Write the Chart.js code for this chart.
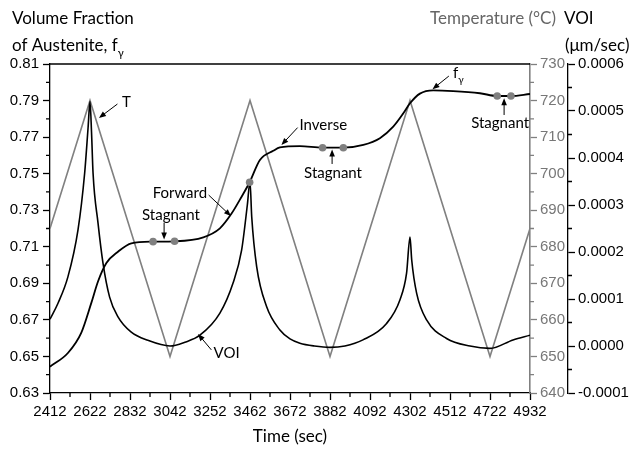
<!DOCTYPE html>
<html>
<head>
<meta charset="utf-8">
<script src="https://cdn.jsdelivr.net/npm/chart.js@4.4.1/dist/chart.umd.min.js"></script>
<style>
  html, body { margin: 0; padding: 0; background: #fff; }
  #wrap { width: 630px; height: 449px; }
</style>
</head>
<body>
<div id="wrap"><canvas id="austeniteChart" width="630" height="449"></canvas></div>
<script>
// Temperature cycle (grey triangle wave) - right inner axis
const tempTime = [2412, 2622, 3042, 3462, 3882, 4302, 4722, 4932];
const tempValue = [685, 720, 650, 720, 650, 720, 650, 685];

// Volume fraction of austenite f_gamma - left axis
const fracTime = [2412, 2506, 2576, 2629, 2664, 2708, 2769, 2839, 2953, 3066, 3217, 3304, 3366, 3418, 3460,
                  3514, 3584, 3619, 3724, 3843, 3952, 4057, 4144, 4214, 4267, 4302, 4354, 4424, 4529, 4669,
                  4760, 4832, 4932];
const fracValue = [0.6444, 0.6519, 0.6629, 0.6793, 0.6910, 0.7011, 0.7073, 0.7119, 0.7128, 0.7130, 0.7152,
                   0.7201, 0.7283, 0.7374, 0.7453, 0.7575, 0.7625, 0.7644, 0.7651, 0.7642, 0.7642, 0.7657,
                   0.7694, 0.7757, 0.7830, 0.7885, 0.7938, 0.7956, 0.7952, 0.7940, 0.7925, 0.7925, 0.7936];

// grey marker dots on the f_gamma curve
const dotTime = [2953, 3066, 3460, 3843, 3952, 4760, 4832];
const dotValue = [0.7128, 0.7130, 0.7453, 0.7642, 0.7642, 0.7925, 0.7925];

// VOI (um/sec) - right outer axis
const voiTime = [2412, 2454, 2506, 2559, 2594, 2612, 2622, 2630, 2638, 2664, 2690, 2725, 2769, 2837, 2926,
                 3042, 3120, 3199, 3304, 3373, 3418, 3448, 3462, 3471, 3497, 3549, 3619, 3672, 3724, 3800,
                 3882, 3960, 4055, 4179, 4249, 4284, 4302, 4311, 4337, 4390, 4494, 4617, 4722, 4843, 4932];
const voiValue = [0.000057, 0.000091, 0.000147, 0.000247, 0.000368, 0.000465, 0.000520, 0.000455, 0.000368,
                  0.000262, 0.000177, 0.000104, 0.000062, 0.000030, 0.000012, 0.000000, 0.000008, 0.000023,
                  0.000070, 0.000134, 0.000204, 0.000300, 0.000350, 0.000275, 0.000169, 0.000084, 0.000034,
                  0.000015, 0.000006, 0.000000, -0.000003, 0.000000, 0.000013, 0.000048, 0.000098, 0.000155,
                  0.000232, 0.000183, 0.000112, 0.000055, 0.000016, 0.000000, -0.000005, 0.000013, 0.000023];

// axis ranges: [min, max, major step, minor step]
const timeAxis = [2412, 4932, 210, 105];
const fracAxis = [0.63, 0.81, 0.02, 0.01];
const tempAxis = [640, 730, 10, 5];
const voiAxis = [-0.0001, 0.0006, 0.0001, 0.00005];

const GREY = '#808080';
const TICK_FONT = { family: '"Liberation Sans", Arial, sans-serif', size: 15 };
const TEXT_FONT = 'Lato, "Open Sans", sans-serif';

// text labels with arrows, placed in (time, fraction) coordinates
const notes = [
  { text: 'T', at: [2790, 0.7892], align: 'left', from: [2766, 0.7881], to: [2669, 0.7805] },
  { text: 'Forward', at: [3237, 0.7394], align: 'right', from: [3245, 0.7383], to: [3362, 0.7268] },
  { text: 'Stagnant', at: [3047, 0.7274], align: 'center', from: [3011, 0.7232], to: [3011, 0.7140] },
  { text: 'Inverse', at: [3722, 0.7766], align: 'left', from: [3712, 0.7752], to: [3627, 0.7657] },
  { text: 'Stagnant', at: [3898, 0.7504], align: 'center', from: [3893, 0.7553], to: [3893, 0.7632] },
  { text: 'Stagnant', at: [4775, 0.7777], align: 'center', from: [4796, 0.7821], to: [4796, 0.7913] },
  { text: 'f', sub: 'γ', at: [4528, 0.8051], align: 'left', from: [4506, 0.8034], to: [4420, 0.7962] },
  { text: 'VOI', at: [3271, 0.6520], align: 'left', from: [3259, 0.6536], to: [3189, 0.6623] }
];

function toPoints(xs, ys) {
  return xs.map((x, i) => ({ x: x, y: ys[i] }));
}

function arrow(ctx, x1, y1, x2, y2) {
  const ang = Math.atan2(y2 - y1, x2 - x1);
  const len = 7, half = 2.8;
  ctx.beginPath();
  ctx.moveTo(x1, y1);
  ctx.lineTo(x2 - Math.cos(ang) * len * 0.7, y2 - Math.sin(ang) * len * 0.7);
  ctx.stroke();
  ctx.beginPath();
  ctx.moveTo(x2, y2);
  ctx.lineTo(x2 - Math.cos(ang) * len + Math.sin(ang) * half, y2 - Math.sin(ang) * len - Math.cos(ang) * half);
  ctx.lineTo(x2 - Math.cos(ang) * len - Math.sin(ang) * half, y2 - Math.sin(ang) * len + Math.cos(ang) * half);
  ctx.closePath();
  ctx.fill();
}

// minor ticks + top frame line
const minorTicks = {
  id: 'minorTicks',
  afterDraw(chart) {
    const ctx = chart.ctx;
    const s = chart.scales;
    const area = chart.chartArea;
    ctx.save();
    ctx.lineWidth = 1.3;

    ctx.strokeStyle = '#000';
    ctx.beginPath();
    ctx.moveTo(area.left, area.top);
    ctx.lineTo(area.right, area.top);
    ctx.stroke();

    const each = (axis, fn) => {
      for (let v = axis[0] + axis[3]; v < axis[1]; v += axis[2]) fn(v);
    };
    ctx.beginPath();
    each(timeAxis, v => {
      const p = s.x.getPixelForValue(v);
      ctx.moveTo(p, area.bottom);
      ctx.lineTo(p, area.bottom + 4);
    });
    each(fracAxis, v => {
      const p = s.y.getPixelForValue(v);
      ctx.moveTo(area.left - 4, p);
      ctx.lineTo(area.left, p);
    });
    each(voiAxis, v => {
      const p = s.yVoi.getPixelForValue(v);
      ctx.moveTo(s.yVoi.left, p);
      ctx.lineTo(s.yVoi.left + 4, p);
    });
    ctx.stroke();

    ctx.strokeStyle = GREY;
    ctx.beginPath();
    each(tempAxis, v => {
      const p = s.yTemp.getPixelForValue(v);
      ctx.moveTo(s.yTemp.left, p);
      ctx.lineTo(s.yTemp.left + 4, p);
    });
    ctx.stroke();
    ctx.restore();
  }
};

// annotation texts and arrows
const annotations = {
  id: 'annotations',
  afterDatasetsDraw(chart) {
    const ctx = chart.ctx;
    const sx = chart.scales.x, sy = chart.scales.y;
    ctx.save();
    ctx.fillStyle = '#000';
    ctx.strokeStyle = '#000';
    ctx.lineWidth = 1;
    ctx.textBaseline = 'middle';
    notes.forEach(n => {
      const tx = sx.getPixelForValue(n.at[0]);
      const ty = sy.getPixelForValue(n.at[1]);
      ctx.font = '15px ' + TEXT_FONT;
      ctx.textAlign = n.align;
      ctx.fillText(n.text, tx, ty);
      if (n.sub) {
        const w = ctx.measureText(n.text).width;
        ctx.font = '10px ' + TEXT_FONT;
        ctx.textAlign = 'left';
        ctx.fillText(n.sub, tx + w, ty + 7);
      }
      arrow(ctx, sx.getPixelForValue(n.from[0]), sy.getPixelForValue(n.from[1]),
        sx.getPixelForValue(n.to[0]), sy.getPixelForValue(n.to[1]));
    });
    ctx.restore();
  }
};

// axis titles
const axisTitles = {
  id: 'axisTitles',
  afterDraw(chart) {
    const ctx = chart.ctx;
    ctx.save();
    ctx.textBaseline = 'middle';
    ctx.textAlign = 'left';
    ctx.font = '17px ' + TEXT_FONT;
    ctx.fillStyle = '#000';
    ctx.fillText('Volume Fraction', 12, 19);
    ctx.fillText('of Austenite, f', 12, 46);
    const w = ctx.measureText('of Austenite, f').width;
    ctx.font = '11px ' + TEXT_FONT;
    ctx.fillText('γ', 12 + w, 53);

    ctx.font = '17px ' + TEXT_FONT;
    ctx.fillStyle = '#666';
    ctx.textAlign = 'right';
    ctx.fillText('Temperature (°C)', 556, 19);
    ctx.textAlign = 'left';
    ctx.fillStyle = '#000';
    ctx.fillText('VOI', 564, 19);
    ctx.fillText('(μm/sec)', 565, 46);

    ctx.textAlign = 'center';
    const area = chart.chartArea;
    ctx.fillText('Time (sec)', (area.left + area.right) / 2, 437);
    ctx.restore();
  }
};

const ctx = document.getElementById('austeniteChart').getContext('2d');

new Chart(ctx, {
  type: 'line',
  data: {
    datasets: [
      {
        label: 'markers',
        data: toPoints(dotTime, dotValue),
        yAxisID: 'y',
        showLine: false,
        pointRadius: 3.8,
        pointBackgroundColor: GREY,
        pointBorderColor: GREY,
        pointBorderWidth: 0
      },
      {
        label: 'f gamma',
        data: toPoints(fracTime, fracValue),
        yAxisID: 'y',
        borderColor: '#000',
        borderWidth: 1.8,
        pointRadius: 0,
        cubicInterpolationMode: 'monotone'
      },
      {
        label: 'VOI',
        data: toPoints(voiTime, voiValue),
        yAxisID: 'yVoi',
        borderColor: '#000',
        borderWidth: 1.6,
        pointRadius: 0,
        cubicInterpolationMode: 'monotone'
      },
      {
        label: 'T',
        data: toPoints(tempTime, tempValue),
        yAxisID: 'yTemp',
        borderColor: GREY,
        borderWidth: 1.6,
        pointRadius: 0,
        tension: 0
      }
    ]
  },
  options: {
    responsive: false,
    animation: false,
    events: [],
    layout: { padding: { top: 64, left: 0, right: 0, bottom: 0 } },
    plugins: {
      legend: { display: false },
      tooltip: { enabled: false }
    },
    scales: {
      x: {
        type: 'linear',
        position: 'bottom',
        min: timeAxis[0],
        max: timeAxis[1],
        border: { display: true, color: '#000', width: 1.3 },
        grid: { drawOnChartArea: false, drawTicks: true, tickLength: 7, tickColor: '#000', tickWidth: 1.3 },
        ticks: {
          stepSize: timeAxis[2], autoSkip: false, maxRotation: 0, padding: 3,
          color: '#000', font: TICK_FONT,
          callback: v => String(Math.round(v))
        },
        afterFit: s => { s.height = 56; }
      },
      y: {
        type: 'linear',
        position: 'left',
        min: fracAxis[0],
        max: fracAxis[1],
        border: { display: true, color: '#000', width: 1.3 },
        grid: { drawOnChartArea: false, drawTicks: true, tickLength: 7, tickColor: '#000', tickWidth: 1.3 },
        ticks: {
          stepSize: fracAxis[2], padding: 4, color: '#000', font: TICK_FONT,
          callback: v => v.toFixed(2)
        },
        afterFit: s => { s.width = 50; }
      },
      yTemp: {
        type: 'linear',
        position: 'right',
        weight: 0,
        min: tempAxis[0],
        max: tempAxis[1],
        border: { display: true, color: GREY, width: 1.6 },
        grid: { drawOnChartArea: false, drawTicks: true, tickLength: 7, tickColor: GREY, tickWidth: 1.3 },
        ticks: {
          stepSize: tempAxis[2], padding: 3, color: '#777', font: TICK_FONT,
          callback: v => String(Math.round(v))
        },
        afterFit: s => { s.width = 38; }
      },
      yVoi: {
        type: 'linear',
        position: 'right',
        weight: 1,
        min: voiAxis[0],
        max: voiAxis[1],
        border: { display: true, color: '#000', width: 1.3 },
        grid: { drawOnChartArea: false, drawTicks: true, tickLength: 7, tickColor: '#000', tickWidth: 1.3 },
        ticks: {
          stepSize: voiAxis[2], padding: 3, color: '#000', font: TICK_FONT,
          callback: v => Math.abs(v) < 1e-12 ? '0.0000' : v.toFixed(4)
        },
        afterFit: s => { s.width = 62; }
      }
    }
  },
  plugins: [minorTicks, annotations, axisTitles]
});
</script>
</body>
</html>
